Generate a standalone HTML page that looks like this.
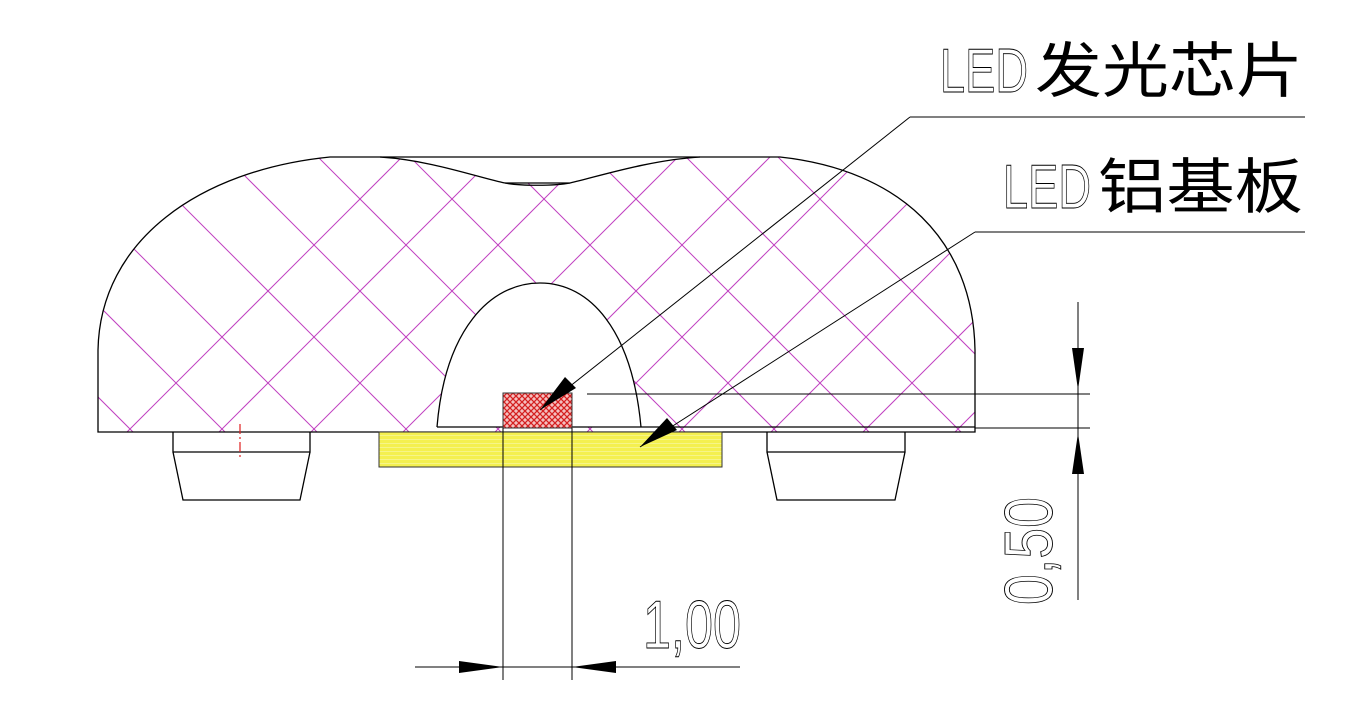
<!DOCTYPE html>
<html><head><meta charset="utf-8"><style>html,body{margin:0;padding:0;background:#fff;}svg{display:block}</style></head>
<body>
<svg width="1364" height="722" viewBox="0 0 1364 722" xmlns="http://www.w3.org/2000/svg">
<defs>
<clipPath id="lens">
<path clip-rule="evenodd" d="M98,432 L98,350 C100,240 200,170 330,157 L780,157 C900,170 973,240 975,350 L975,432 Z M437,427 C445,330 490,283 540,283 C590,283 632,330 641,427 Z"/>
</clipPath>
<pattern id="redh" width="6" height="6" patternUnits="userSpaceOnUse">
<rect width="6" height="6" fill="#f4c0c0"/>
<path d="M0,0 L6,6 M6,0 L0,6" stroke="#d42020" stroke-width="1.3"/>
</pattern>
<pattern id="yel" width="4" height="4" patternUnits="userSpaceOnUse">
<rect width="4" height="4" fill="#f4f050"/>
<path d="M0,3.5 H4" stroke="#f8f8a0" stroke-width="0.7"/>
</pattern>
</defs>

<g clip-path="url(#lens)" stroke="#c040c0" stroke-width="1">
<line x1="-383" y1="100" x2="117" y2="600"/><line x1="-291" y1="100" x2="209" y2="600"/><line x1="-199" y1="100" x2="301" y2="600"/><line x1="-107" y1="100" x2="393" y2="600"/><line x1="-15" y1="100" x2="485" y2="600"/><line x1="77" y1="100" x2="577" y2="600"/><line x1="169" y1="100" x2="669" y2="600"/><line x1="261" y1="100" x2="761" y2="600"/><line x1="353" y1="100" x2="853" y2="600"/><line x1="445" y1="100" x2="945" y2="600"/><line x1="537" y1="100" x2="1037" y2="600"/><line x1="629" y1="100" x2="1129" y2="600"/><line x1="721" y1="100" x2="1221" y2="600"/><line x1="813" y1="100" x2="1313" y2="600"/><line x1="905" y1="100" x2="1405" y2="600"/>
<line x1="143" y1="600" x2="643" y2="100"/><line x1="-41" y1="600" x2="459" y2="100"/><line x1="51" y1="600" x2="551" y2="100"/><line x1="235" y1="600" x2="735" y2="100"/><line x1="327" y1="600" x2="827" y2="100"/><line x1="419" y1="600" x2="919" y2="100"/><line x1="511" y1="600" x2="1011" y2="100"/><line x1="603" y1="600" x2="1103" y2="100"/><line x1="695" y1="600" x2="1195" y2="100"/><line x1="787" y1="600" x2="1287" y2="100"/><line x1="879" y1="600" x2="1379" y2="100"/><line x1="971" y1="600" x2="1471" y2="100"/>
</g>
<path d="M380,157 C430,160 480,178 505,183 L570,183 C600,176 650,160 700,157 Z" fill="#fff" stroke="none"/>
<g fill="none" stroke="#000" stroke-width="1.3">
<path d="M98,432 L98,350 C100,240 200,170 330,157 L780,157 C900,170 973,240 975,350 L975,432 Z"/>
<path d="M380,157 C430,160 480,178 505,183 C520,186 555,186 570,183 C600,176 650,160 700,157"/>
<line x1="505" y1="183" x2="570" y2="183"/>
<path d="M437,427 C445,330 490,283 540,283 C590,283 632,330 641,427"/>
<line x1="437" y1="427" x2="975" y2="427"/>
<path d="M173,432 V452 H310 V432 M173,452 L183,500 H300 L310,452"/>
<path d="M767,432 V452 H905 V432 M767,452 L777,500 H895 L905,452"/>
</g>
<line x1="240" y1="424" x2="240" y2="458" stroke="#e02020" stroke-width="1.2" stroke-dasharray="10,3,2,3"/>
<rect x="379" y="432" width="343" height="35" fill="url(#yel)" stroke="#333" stroke-width="1"/>
<rect x="503" y="393" width="69" height="35" fill="url(#redh)" stroke="#333" stroke-width="1"/>
<g stroke="#000" stroke-width="1" fill="none">
<line x1="503" y1="428" x2="503" y2="680"/>
<line x1="572" y1="428" x2="572" y2="680"/>
<line x1="415" y1="667" x2="740" y2="667"/>
<line x1="587" y1="394" x2="1090" y2="394"/>
<line x1="975" y1="428" x2="1090" y2="428"/>
<line x1="1078" y1="302" x2="1078" y2="600"/>
<line x1="910" y1="117" x2="1305" y2="117"/>
<line x1="910" y1="117" x2="540" y2="410"/>
<line x1="975" y1="232" x2="1305" y2="232"/>
<line x1="975" y1="232" x2="640" y2="447"/>
</g>
<g fill="#000">
<polygon points="503,667 459,661 459,673"/>
<polygon points="572,667 616,661 616,673"/>
<polygon points="1078,390 1072,348 1084,348"/>
<polygon points="1078,433 1072,474 1084,474"/>
<polygon points="540,410 565,377 576,388"/>
<polygon points="640,447 667,418 677,430"/>
</g>
<g font-family="Liberation Sans, sans-serif" fill="#fff" stroke="#000" stroke-width="0.9">
<text x="940" y="92" font-size="62" textLength="88" lengthAdjust="spacingAndGlyphs">LED</text>
<text x="1003" y="208" font-size="62" textLength="88" lengthAdjust="spacingAndGlyphs">LED</text>
<text x="643" y="648" font-size="68" textLength="98" lengthAdjust="spacingAndGlyphs">1,00</text>
<text transform="translate(1052,605) rotate(-90)" font-size="68" textLength="108" lengthAdjust="spacingAndGlyphs">0,50</text>
</g>
<g font-family="Liberation Sans, 'Noto Sans CJK SC', sans-serif" font-size="60" fill="#000" font-weight="normal">
<text x="1035" y="92" textLength="268" lengthAdjust="spacingAndGlyphs">发光芯片</text>
<text x="1098" y="208" textLength="205" lengthAdjust="spacingAndGlyphs">铝基板</text>
</g>
</svg>
</body></html>
